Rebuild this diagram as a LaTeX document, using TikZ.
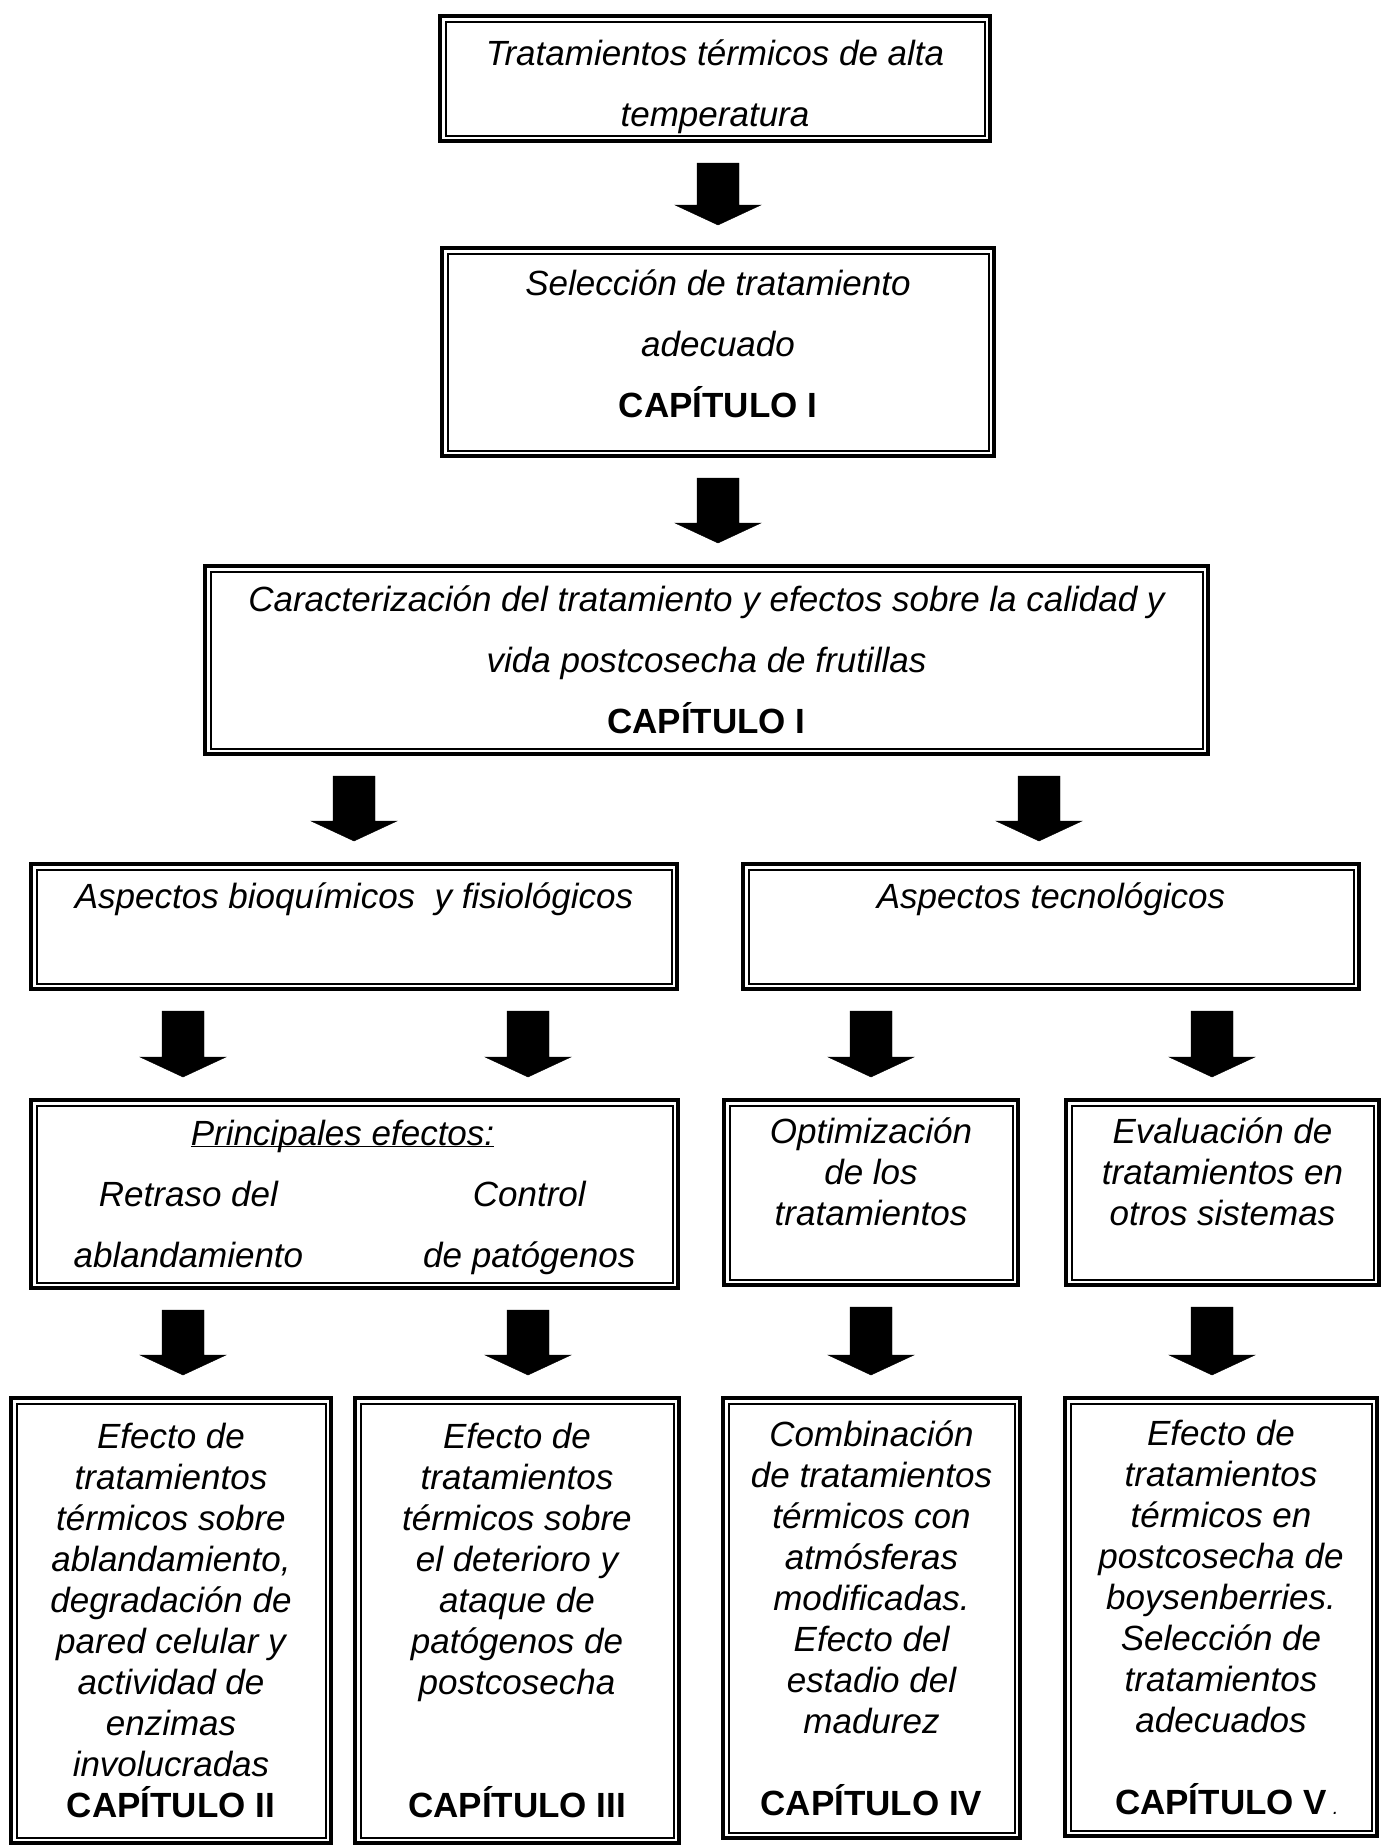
\documentclass[tikz,border=0pt]{standalone}
\usepackage{fontspec}
\setmainfont{Liberation Sans}
\usetikzlibrary{calc}

\newcommand{\capitulo}[1]{\textbf{\upshape CAPÍTULO #1}}

\tikzset{
  box/.style={draw, line width=4pt, inner sep=2pt, align=center,
    font=\fontsize{35}{41}\selectfont\itshape,
    append after command={\pgfextra{\draw[line width=2pt]
      ([shift={(7.5pt,-7.5pt)}]\tikzlastnode.north west) rectangle
      ([shift={(-7.5pt,7.5pt)}]\tikzlastnode.south east);}}},
  wide/.style={font=\fontsize{35}{61}\selectfont\itshape},
  blk/.style={fill=black, to path={
    let \p1=(\tikztostart), \p2=(\tikztotarget) in
    ({\x1-21pt},{\y1-20pt}) -- ({\x1+21pt},{\y1-20pt}) -- ({\x1+21pt},{\y2+41pt})
    -- ({\x1+43pt},{\y2+41pt}) -- ({\x1},{\y2+21pt}) -- ({\x1-43pt},{\y2+41pt})
    -- ({\x1-21pt},{\y2+41pt}) -- cycle}}
}

\begin{document}
\begin{tikzpicture}[x=1pt,y=-1pt]
\useasboundingbox (0,0) rectangle (1381,1847);
% top column
\node[box,wide,minimum width=550pt,minimum height=125pt] (trat) at (715,78.5)
  {\rule{0pt}{42pt}Tratamientos térmicos de alta\\temperatura};
\node[box,wide,minimum width=552pt,minimum height=208pt] (sel) at (718,352)
  {Selección de tratamiento\\adecuado\\\capitulo{I}\rule[-16pt]{0pt}{16pt}};
\node[box,wide,minimum width=1003pt,minimum height=188pt] (carac) at (706.5,660)
  {Caracterización del tratamiento y efectos sobre la calidad y\\vida postcosecha de frutillas\\\capitulo{I}};
% aspects
\node[box,wide,minimum width=646pt,minimum height=125pt] (bioq) at (354,926.5)
  {Aspectos bioquímicos~ y fisiológicos\\\mbox{}};
\node[box,wide,minimum width=616pt,minimum height=125pt] (tecno) at (1051,926.5)
  {Aspectos tecnológicos\\\mbox{}};
% effects
\node[box,wide,minimum width=647pt,minimum height=188pt] (efec) at (354.5,1194)
  {\begin{tabular}{@{}c@{\hspace{120pt}}c@{}}
    \multicolumn{2}{@{}c@{\hspace{24pt}}}{\underline{\smash{Principales efectos:}}}\\
    Retraso del & Control\\
    ablandamiento & de patógenos
  \end{tabular}};
\node[box,minimum width=294pt,minimum height=185pt] (optim) at (871,1192.5)
  {Optimización\\de los\\tratamientos\\\mbox{}};
\node[box,minimum width=313pt,minimum height=185pt] (evalu) at (1222.5,1192.5)
  {Evaluación de\\tratamientos en\\otros sistemas\\\mbox{}};
% chapters
\node[box,minimum width=320pt,minimum height=445pt] (ablan) at (171,1620.5)
  {Efecto de\\tratamientos\\térmicos sobre\\ablandamiento,\\degradación de\\pared celular y\\actividad de\\enzimas\\involucradas\\\capitulo{II}};
\node[box,minimum width=324pt,minimum height=445pt] (patog) at (517,1620.5)
  {Efecto de\\tratamientos\\térmicos sobre\\el deterioro y\\ataque de\\patógenos de\\postcosecha\\\mbox{}\\\mbox{}\\\capitulo{III}};
\node[box,minimum width=297pt,minimum height=440pt] (combi) at (871.5,1618)
  {Combinación\\de tratamientos\\térmicos con\\atmósferas\\modificadas.\\Efecto del\\estadio del\\madurez\\\mbox{}\\\capitulo{IV}};
\node[box,minimum width=312pt,minimum height=438pt] (boys) at (1221,1617)
  {Efecto de\\tratamientos\\térmicos en\\postcosecha de\\boysenberries.\\Selección de\\tratamientos\\adecuados\\\mbox{}\\\capitulo{V}\rlap{\,{\fontsize{20}{20}\selectfont .}}};
%
\path
  % main column
  (trat.south -| sel.north) edge[blk] (sel.north)
  (sel.south) edge[blk] (carac.north -| sel.south)
  (carac.south -| bioq.north) edge[blk] (bioq.north)
  (carac.south -| 1039,0) edge[blk] (tecno.north -| 1039,0)
  % to effects
  (bioq.south -| 183,0) edge[blk] (efec.north -| 183,0)
  (bioq.south -| 528,0) edge[blk] (efec.north -| 528,0)
  (tecno.south -| optim.north) edge[blk] (optim.north)
  (tecno.south -| 1212,0) edge[blk] (evalu.north -| 1212,0)
  % to chapters
  (efec.south -| 183,0) edge[blk] (ablan.north -| 183,0)
  (efec.south -| 528,0) edge[blk] (patog.north -| 528,0)
  (optim.south) edge[blk] (combi.north -| optim.south)
  (evalu.south -| 1212,0) edge[blk] (boys.north -| 1212,0);
\end{tikzpicture}
\end{document}
